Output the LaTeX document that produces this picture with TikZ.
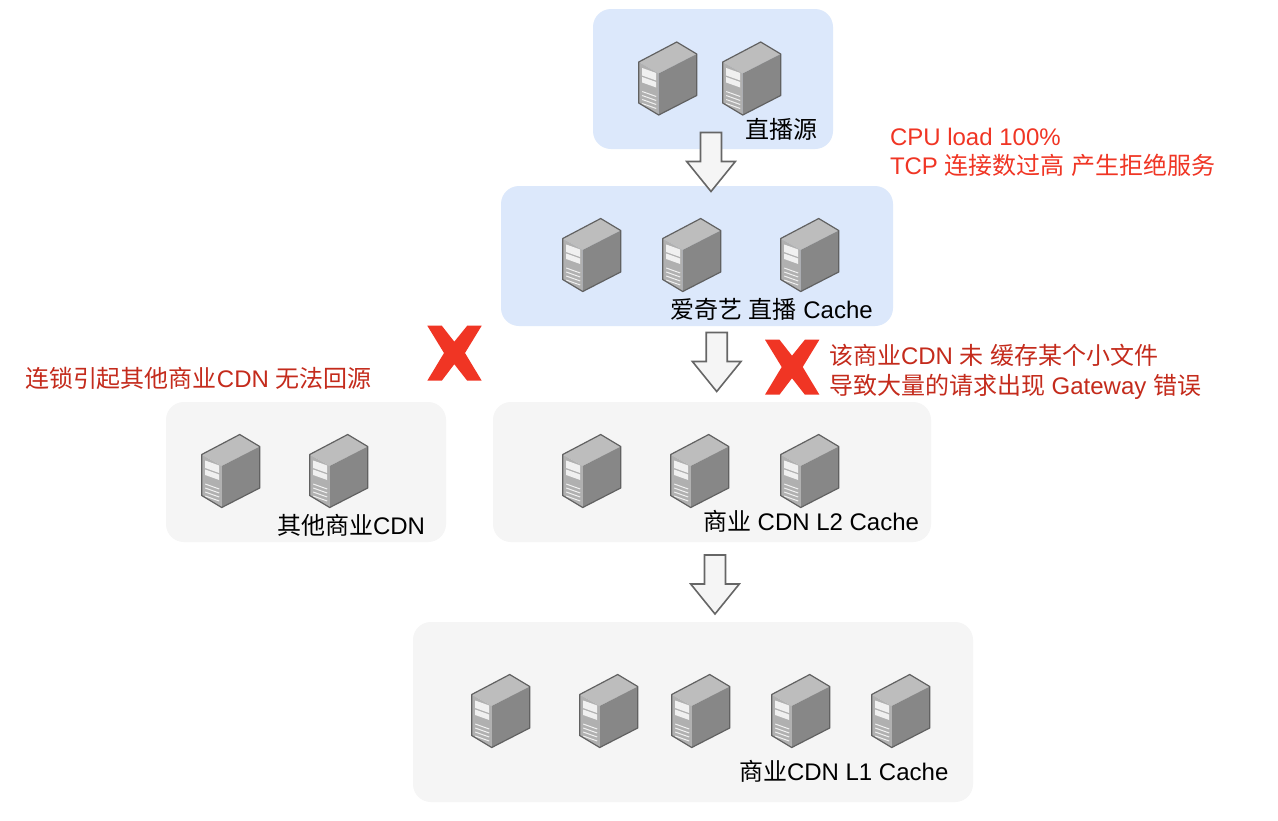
\documentclass[tikz,border=0pt]{standalone}
\usepackage{fontspec}
\setmainfont{Liberation Sans}
\newfontfamily\cjk{Noto Sans CJK SC}
\newcommand{\zh}[1]{{\cjk #1}}
\definecolor{bluepanel}{HTML}{DCE8FB}
\definecolor{graypanel}{HTML}{F5F5F5}
\definecolor{alertred}{HTML}{F03524}
\definecolor{darkred}{HTML}{C42B1C}
\tikzset{
  x=1pt,y=-1pt,
  panelblue/.style={fill=bluepanel,draw=none,rounded corners=18pt},
  panelgray/.style={fill=graypanel,draw=none,rounded corners=18pt},
  lbl/.style={anchor=base west,inner sep=0pt,outer sep=0pt,font=\fontsize{24}{28}\selectfont,text=black},
  redlbl/.style={lbl,text=alertred},
  darklbl/.style={lbl,text=darkred},
  blockarrow/.style={fill=graypanel,draw=black!60,line width=1.6pt,line join=miter},
  crossmark/.style={fill=alertred,draw=none},
  pics/server/.style={code={
    \fill[black!26] (0,20)--(38,0)--(58,12)--(20,31.5)--cycle;
    \fill[black!31] (0,20)--(20,31.5)--(20,73)--(0,61)--cycle;
    \fill[black!47] (20,31.5)--(58,12)--(58,53.5)--(20,73)--cycle;
    \fill[white!94!black] (3.5,26)--(17.5,31)--(17.5,38.5)--(3.5,33.5)--cycle;
    \fill[white!94!black] (3.5,35)--(17.5,40)--(17.5,45.5)--(3.5,40.5)--cycle;
    \foreach \d in {0,4,8,12}{\draw[white!94!black,line width=1pt] (3.5,49.5+\d)--(17.5,54.5+\d);}
    \draw[black!62,line width=1.2pt,line join=round] (0,20)--(38,0)--(58,12)--(58,53.5)--(20,73)--(0,61)--cycle;
  }},
  pics/downarrow/.style={code={
    \draw[blockarrow] (-10.5,0)--(10.5,0)--(10.5,29)--(24.3,29)--(0,59)--(-24.3,29)--(-10.5,29)--cycle;
  }},
  pics/cross/.style={code={
    \fill[crossmark] (0,0)--(14.5,0)--(27,16)--(39.9,0)--(54.4,0)--(37.7,27.3)--(54.4,55)--(39.9,55)--(27,38.5)--(14.5,55)--(0,55)--(16.7,27.3)--cycle;
  }}
}
\begin{document}
\begin{tikzpicture}
\useasboundingbox (0,0) rectangle (1278,820);
\fill[white] (0,0) rectangle (1278,820);
\path[panelblue] (593,9) rectangle (833,149);
\path[panelblue] (501,186) rectangle (893,326);
\path[panelgray] (166,402) rectangle (446,542);
\path[panelgray] (493,402) rectangle (931,542);
\path[panelgray] (413,622) rectangle (973,802);
\foreach \px/\py in {638.7/42,722.7/42,562.7/218.5,662.7/218.5,780.7/218.5,201.7/434.5,309.7/434.5,562.7/434.5,670.7/434.5,780.7/434.5,471.7/674.5,579.7/674.5,671.7/674.5,771.7/674.5,871.7/674.5}
  \pic at (\px,\py) {server};
\pic at (711,132.5) {downarrow};
\pic at (716.7,332.5) {downarrow};
\pic at (715,555) {downarrow};
\pic at (427.3,325.7) {cross};
\pic at (765,339.7) {cross};
\node[lbl] (l1) at (745,138) {\zh{直播源}};
\node[lbl] (l2) at (670,318) {\zh{爱奇艺} \zh{直播} Cache};
\node[lbl] (l3) at (277,534) {\zh{其他商业}CDN};
\node[lbl] (l4) at (703,530) {\zh{商业} CDN L2 Cache};
\node[lbl] (l5) at (739,780) {\zh{商业}CDN L1 Cache};
\node[redlbl] (r1) at (890,145) {CPU load 100\%};
\node[redlbl] (r2) at (890,174) {TCP \zh{连接数过高} \zh{产生拒绝服务}};
\node[darklbl] (d1) at (829,364) {\zh{该商业}CDN \zh{未} \zh{缓存某个小文件}};
\node[darklbl] (d2) at (829,394) {\zh{导致大量的请求出现} Gateway \zh{错误}};
\node[darklbl] (d3) at (25,387) {\zh{连锁引起其他商业}CDN \zh{无法回源}};
\end{tikzpicture}
\end{document}
